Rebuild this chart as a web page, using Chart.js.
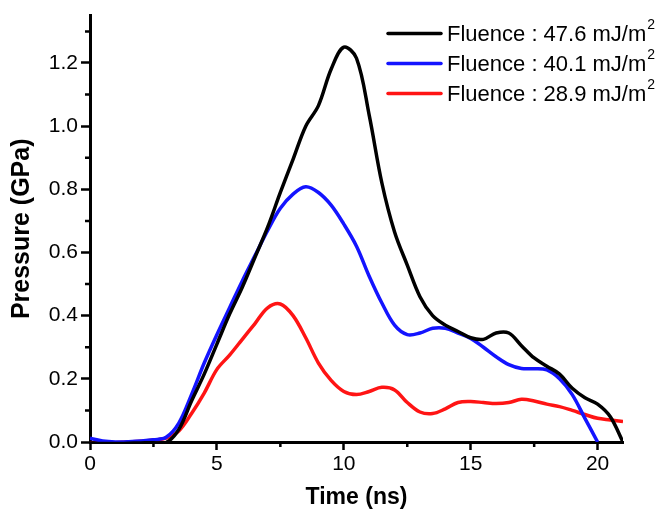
<!DOCTYPE html>
<html>
<head>
<meta charset="utf-8">
<script src="https://cdn.jsdelivr.net/npm/chart.js@4/dist/chart.umd.min.js"></script>
<style>
  html, body { margin: 0; padding: 0; background: #ffffff; }
  #wrap { width: 661px; height: 512px; }
</style>
</head>
<body>
<div id="wrap"><canvas id="chart" width="661" height="512"></canvas></div>
<script>
// Time axis (ns) shared by the three pressure traces
const time = [0, 0.5, 1, 1.5, 2, 2.5, 3, 3.5, 4, 4.5, 5, 5.5, 6, 6.5, 7, 7.5, 8, 8.5, 9, 9.5,
  10, 10.5, 11, 11.5, 12, 12.5, 13, 13.5, 14, 14.5, 15, 15.5, 16, 16.5, 17, 17.5, 18, 18.5,
  19, 19.5, 20, 20.5, 21];

// Pressure (GPa) for each laser fluence
const pressure476 = [-0.005, -0.005, -0.005, -0.004, -0.003, -0.002, -0.002, 0.04, 0.13, 0.215,
  0.31, 0.405, 0.49, 0.585, 0.68, 0.79, 0.895, 1.0, 1.065, 1.18,
  1.25, 1.215, 1.035, 0.82, 0.665, 0.56, 0.46, 0.40, 0.37, 0.35,
  0.33, 0.325, 0.345, 0.345, 0.305, 0.266, 0.24, 0.215, 0.17, 0.14,
  0.12, 0.08, 0.0];
const pressure401 = [0.012, 0.003, 0.0, 0.001, 0.003, 0.007, 0.015, 0.06, 0.15, 0.25,
  0.34, 0.425, 0.51, 0.59, 0.67, 0.74, 0.785, 0.808, 0.79, 0.75,
  0.69, 0.62, 0.525, 0.44, 0.37, 0.34, 0.345, 0.36, 0.36, 0.345,
  0.328, 0.30, 0.27, 0.245, 0.233, 0.232, 0.228, 0.2, 0.15, 0.075,
  0.0, null, null];
const pressure289 = [-0.005, -0.004, -0.002, 0.0, 0.002, 0.006, 0.012, 0.035, 0.09, 0.155,
  0.23, 0.275, 0.325, 0.375, 0.425, 0.437, 0.40, 0.33, 0.25, 0.195,
  0.16, 0.15, 0.16, 0.173, 0.165, 0.125, 0.095, 0.09, 0.105, 0.125,
  0.128, 0.125, 0.122, 0.125, 0.135, 0.13, 0.12, 0.112, 0.10, 0.087,
  0.075, 0.07, 0.065];

const seriesLabels = ['Fluence : 47.6 mJ/m²', 'Fluence : 40.1 mJ/m²', 'Fluence : 28.9 mJ/m²'];
const seriesColors = ['#000000', '#1414ff', '#ff1414'];

// Axis ticks
const xMajorTicks = [0, 5, 10, 15, 20];
const xMinorTicks = [2.5, 7.5, 12.5, 17.5];
const yMajorTicks = [0, 0.2, 0.4, 0.6, 0.8, 1.0, 1.2];
const yMinorTicks = [0.1, 0.3, 0.5, 0.7, 0.9, 1.1, 1.3];

const FONT = 'Liberation Sans, Arial, Helvetica, sans-serif';

function toPoints(values) {
  const pts = [];
  values.forEach((v, i) => { if (v !== null) pts.push({ x: time[i], y: v }); });
  return pts;
}

const seriesValues = [pressure476, pressure401, pressure289];
const datasets = seriesValues.map((vals, i) => ({
  label: seriesLabels[i],
  data: toPoints(vals),
  borderColor: seriesColors[i],
  backgroundColor: seriesColors[i],
  borderWidth: 3.5,
  pointRadius: 0,
  fill: false,
  tension: 0.35
}));

// Shorter minor tick marks on the outside of both axes
const minorTicks = {
  id: 'minorTicks',
  afterDraw(chart) {
    const { ctx, scales: { x, y } } = chart;
    ctx.save();
    ctx.strokeStyle = '#000';
    ctx.lineWidth = 2.5;
    ctx.beginPath();
    xMinorTicks.forEach(v => {
      const px = x.getPixelForValue(v);
      ctx.moveTo(px, x.top);
      ctx.lineTo(px, x.top + 5);
    });
    yMinorTicks.forEach(v => {
      const py = y.getPixelForValue(v);
      ctx.moveTo(y.right, py);
      ctx.lineTo(y.right - 5, py);
    });
    ctx.stroke();
    ctx.restore();
  }
};

// Legend in the upper right corner, with a raised "2" for m²
const fluenceLegend = {
  id: 'fluenceLegend',
  afterDraw(chart) {
    const { ctx } = chart;
    const area = chart.chartArea;
    const lineStart = area.right - 235;
    const lineEnd = lineStart + 53;
    const textX = lineEnd + 6;
    const rowTop = area.top + 18;
    const rowGap = 30;
    ctx.save();
    chart.data.datasets.forEach((ds, i) => {
      const yRow = rowTop + i * rowGap;
      ctx.strokeStyle = ds.borderColor;
      ctx.lineWidth = 3.5;
      ctx.lineCap = 'round';
      ctx.beginPath();
      ctx.moveTo(lineStart, yRow);
      ctx.lineTo(lineEnd, yRow);
      ctx.stroke();
      const base = ds.label.replace('²', '');
      ctx.fillStyle = '#000';
      ctx.textBaseline = 'middle';
      ctx.textAlign = 'left';
      ctx.font = '22px ' + FONT;
      ctx.fillText(base, textX, yRow + 1);
      const w = ctx.measureText(base).width;
      ctx.font = '14px ' + FONT;
      ctx.fillText('2', textX + w + 1, yRow - 8);
    });
    ctx.restore();
  }
};

new Chart(document.getElementById('chart'), {
  type: 'line',
  data: { datasets },
  options: {
    responsive: false,
    animation: false,
    devicePixelRatio: 1,
    layout: { padding: { left: 0, right: 38, top: 13, bottom: 0 } },
    plugins: { legend: { display: false }, tooltip: { enabled: false } },
    scales: {
      x: {
        type: 'linear',
        min: 0,
        max: 21,
        afterBuildTicks: s => { s.ticks = xMajorTicks.map(v => ({ value: v })); },
        afterFit: s => { s.height = 70; },
        grid: { display: true, drawOnChartArea: false, tickLength: 8, tickWidth: 2.5, color: '#000' },
        border: { display: true, color: '#000', width: 3 },
        ticks: {
          color: '#000',
          font: { family: FONT, size: 21 },
          padding: 2,
          maxRotation: 0,
          autoSkip: false,
          callback: v => String(v)
        },
        title: {
          display: true,
          text: 'Time (ns)',
          color: '#000',
          font: { family: FONT, size: 23, weight: 'bold' },
          padding: { top: 0, bottom: 1 }
        }
      },
      y: {
        type: 'linear',
        min: 0,
        max: 1.35,
        afterBuildTicks: s => { s.ticks = yMajorTicks.map(v => ({ value: v })); },
        afterFit: s => { s.width = 90; },
        grid: { display: true, drawOnChartArea: false, tickLength: 9, tickWidth: 2.5, color: '#000' },
        border: { display: true, color: '#000', width: 3 },
        ticks: {
          color: '#000',
          font: { family: FONT, size: 21 },
          padding: 3,
          callback: v => Number(v).toFixed(1)
        },
        title: {
          display: true,
          text: 'Pressure (GPa)',
          color: '#000',
          font: { family: FONT, size: 25, weight: 'bold' },
          padding: { top: 7, bottom: 0 }
        }
      }
    }
  },
  plugins: [minorTicks, fluenceLegend]
});
</script>
</body>
</html>
